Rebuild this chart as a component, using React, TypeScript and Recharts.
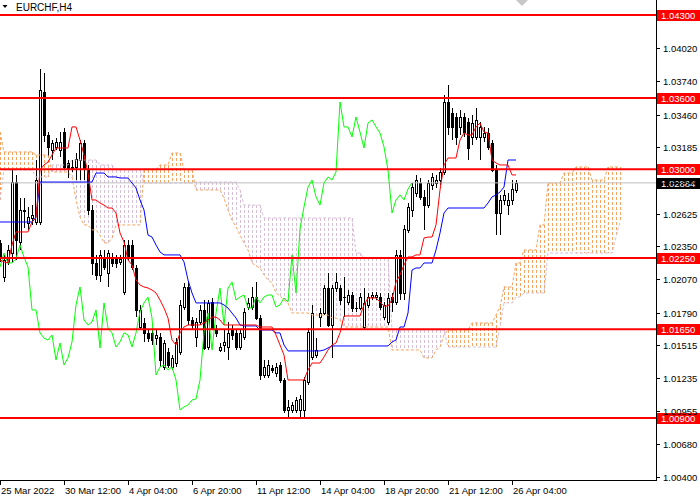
import React from 'react';
import { ComposedChart, Bar, Line, XAxis, YAxis, ReferenceLine } from 'recharts';

const FONT = '"Liberation Sans", Arial, sans-serif';

const opens = [
  1.02377, 1.02090, 1.02217, 1.02292, 1.02891, 1.02385, 1.02647, 1.02546, 1.02588, 1.02554,
  1.02554, 1.03651, 1.03288, 1.03162, 1.03187, 1.03162, 1.03313, 1.03052, 1.03010, 1.03018,
  1.03077, 1.03221, 1.02993, 1.02655, 1.02208, 1.02107, 1.02259, 1.02124, 1.02259, 1.02250,
  1.02217, 1.01963, 1.02360, 1.02360, 1.02166, 1.01668, 1.01702, 1.01618, 1.01618, 1.01575,
  1.01584, 1.01331, 1.01457, 1.01331, 1.01364, 1.01457, 1.01837, 1.02006, 1.01727, 1.01584,
  1.01710, 1.01812, 1.01499, 1.01879, 1.01643, 1.01474, 1.01516, 1.01499, 1.01643, 1.01618,
  1.01499, 1.01584, 1.01837, 1.01837, 1.01921, 1.01744, 1.01263, 1.01263, 1.01322, 1.01280,
  1.01348, 1.01221, 1.00968, 1.00968, 1.00968, 1.00968, 1.00968, 1.01204, 1.01415, 1.01432,
  1.01752, 1.01786, 1.01997, 1.01685, 1.01997, 1.01997, 1.01921, 1.01879, 1.01938, 1.01828,
  1.01828, 1.01668, 1.01854, 1.01921, 1.01921, 1.01921, 1.01752, 1.01710, 1.01921, 1.01879,
  1.02276, 1.01955, 1.02487, 1.02655, 1.02799, 1.02883, 1.02765, 1.02697, 1.02866, 1.02883,
  1.02908, 1.02976, 1.03566, 1.03474, 1.03440, 1.03356, 1.03440, 1.03398, 1.03271, 1.03271,
  1.03271, 1.03271, 1.03305, 1.03221, 1.02993, 1.02630, 1.02740, 1.02697, 1.02740, 1.02824,
];

const highs = [
  1.02402, 1.02276, 1.02360, 1.02993, 1.02951, 1.02756, 1.02756, 1.02681, 1.02697, 1.03077,
  1.03845, 1.03811, 1.03313, 1.03246, 1.03263, 1.03313, 1.03347, 1.03077, 1.03077, 1.03136,
  1.03246, 1.03246, 1.03035, 1.02697, 1.02276, 1.02318, 1.02318, 1.02318, 1.02292, 1.02276,
  1.02276, 1.02402, 1.02402, 1.02402, 1.02191, 1.01854, 1.01744, 1.01643, 1.01660, 1.01643,
  1.01618, 1.01558, 1.01491, 1.01432, 1.01575, 1.01896, 1.02039, 1.02048, 1.01752, 1.01744,
  1.01854, 1.01896, 1.01896, 1.01913, 1.01685, 1.01533, 1.01643, 1.01710, 1.01685, 1.01643,
  1.01643, 1.01828, 1.01913, 1.02006, 1.02048, 1.01769, 1.01390, 1.01390, 1.01348, 1.01364,
  1.01373, 1.01238, 1.01052, 1.01035, 1.01078, 1.01094, 1.01246, 1.01660, 1.01854, 1.01575,
  1.01828, 1.02022, 1.02124, 1.02022, 1.02124, 1.02022, 1.02090, 1.01980, 1.01963, 1.01879,
  1.01955, 1.01997, 1.01955, 1.01963, 1.01963, 1.01955, 1.01879, 1.01955, 1.01955, 1.02318,
  1.02318, 1.02529, 1.02714, 1.02883, 1.02951, 1.02925, 1.02824, 1.02908, 1.02967, 1.02951,
  1.03010, 1.03626, 1.03710, 1.03516, 1.03474, 1.03499, 1.03474, 1.03431, 1.03457, 1.03516,
  1.03398, 1.03356, 1.03347, 1.03246, 1.03035, 1.02782, 1.02824, 1.02799, 1.02908, 1.02908,
];

const lows = [
  1.02217, 1.02048, 1.02191, 1.02217, 1.02233, 1.02318, 1.02503, 1.02487, 1.02529, 1.02529,
  1.02529, 1.03229, 1.03102, 1.03077, 1.03162, 1.03102, 1.02993, 1.02925, 1.02976, 1.02908,
  1.02908, 1.02908, 1.02613, 1.02107, 1.02065, 1.02048, 1.02149, 1.02006, 1.02174, 1.02166,
  1.02191, 1.01938, 1.02233, 1.02149, 1.01752, 1.01643, 1.01542, 1.01542, 1.01516, 1.01516,
  1.01331, 1.01305, 1.01322, 1.01305, 1.01331, 1.01432, 1.01812, 1.01685, 1.01643, 1.01499,
  1.01685, 1.01474, 1.01474, 1.01643, 1.01584, 1.01457, 1.01457, 1.01390, 1.01558, 1.01474,
  1.01474, 1.01558, 1.01812, 1.01812, 1.01727, 1.01221, 1.01238, 1.01238, 1.01280, 1.01246,
  1.01196, 1.00943, 1.00900, 1.00943, 1.00943, 1.00900, 1.00900, 1.01179, 1.01390, 1.01407,
  1.01668, 1.01769, 1.01668, 1.01407, 1.01963, 1.01854, 1.01752, 1.01854, 1.01795, 1.01795,
  1.01812, 1.01643, 1.01828, 1.01896, 1.01896, 1.01812, 1.01727, 1.01685, 1.01795, 1.01854,
  1.01896, 1.01896, 1.02461, 1.02596, 1.02765, 1.02740, 1.02487, 1.02672, 1.02824, 1.02841,
  1.02866, 1.02951, 1.03288, 1.03246, 1.03204, 1.03288, 1.03271, 1.03077, 1.03204, 1.03246,
  1.03077, 1.03229, 1.03162, 1.02976, 1.02444, 1.02444, 1.02697, 1.02613, 1.02697, 1.02799,
];

const closes = [
  1.02250, 1.02233, 1.02318, 1.02891, 1.02402, 1.02655, 1.02655, 1.02596, 1.02613, 1.02908,
  1.03668, 1.03288, 1.03187, 1.03221, 1.03229, 1.03229, 1.03018, 1.03010, 1.03018, 1.03086,
  1.03221, 1.03010, 1.02655, 1.02208, 1.02107, 1.02276, 1.02174, 1.02292, 1.02208, 1.02208,
  1.02242, 1.02360, 1.02259, 1.02174, 1.01812, 1.01812, 1.01618, 1.01575, 1.01558, 1.01601,
  1.01390, 1.01533, 1.01348, 1.01407, 1.01542, 1.01854, 1.02006, 1.01727, 1.01685, 1.01710,
  1.01812, 1.01491, 1.01871, 1.01660, 1.01618, 1.01499, 1.01542, 1.01618, 1.01601, 1.01499,
  1.01618, 1.01795, 1.01871, 1.01921, 1.01744, 1.01263, 1.01331, 1.01348, 1.01305, 1.01331,
  1.01221, 1.00968, 1.00993, 1.01010, 1.01052, 1.01061, 1.01221, 1.01626, 1.01786, 1.01474,
  1.01786, 1.01997, 1.01685, 1.01997, 1.02048, 1.01896, 1.01921, 1.01938, 1.01828, 1.01828,
  1.01921, 1.01871, 1.01921, 1.01938, 1.01938, 1.01837, 1.01854, 1.01913, 1.01879, 1.02276,
  1.01955, 1.02495, 1.02681, 1.02849, 1.02908, 1.02765, 1.02697, 1.02883, 1.02934, 1.02908,
  1.02976, 1.03566, 1.03356, 1.03356, 1.03271, 1.03440, 1.03313, 1.03178, 1.03389, 1.03415,
  1.03356, 1.03305, 1.03187, 1.02993, 1.02630, 1.02740, 1.02782, 1.02740, 1.02832, 1.02884,
];

const tenkan = [
  1.02233, 1.02217, 1.02208, 1.02360, 1.02470, 1.02470, 1.02470, 1.02470, 1.02554, 1.02588,
  1.02993, 1.03035, 1.03060, 1.03119, 1.03178, 1.03178, 1.03178, 1.03178, 1.03356, 1.03356,
  1.03246, 1.03119, 1.02967, 1.02740, 1.02740, 1.02714, 1.02697, 1.02672, 1.02672, 1.02630,
  1.02461, 1.02385, 1.02233, 1.02191, 1.02065, 1.02022, 1.02006, 1.01997, 1.01980, 1.01955,
  1.01896, 1.01828, 1.01744, 1.01558, 1.01516, 1.01618, 1.01668, 1.01685, 1.01685, 1.01685,
  1.01685, 1.01702, 1.01727, 1.01752, 1.01752, 1.01727, 1.01685, 1.01685, 1.01685, 1.01685,
  1.01685, 1.01685, 1.01685, 1.01685, 1.01685, 1.01668, 1.01668, 1.01668, 1.01668, 1.01601,
  1.01516, 1.01432, 1.01221, 1.01221, 1.01221, 1.01221, 1.01221, 1.01305, 1.01364, 1.01364,
  1.01364, 1.01415, 1.01474, 1.01516, 1.01533, 1.01618, 1.01761, 1.01761, 1.01761, 1.01761,
  1.01761, 1.01854, 1.01913, 1.01913, 1.01913, 1.01879, 1.01845, 1.01845, 1.01896, 1.02048,
  1.02107, 1.02191, 1.02259, 1.02259, 1.02276, 1.02276, 1.02419, 1.02427, 1.02427, 1.02529,
  1.02824, 1.03035, 1.03094, 1.03094, 1.03094, 1.03246, 1.03305, 1.03288, 1.03288, 1.03356,
  1.03389, 1.03313, 1.03305, 1.03077, 1.03052, 1.03035, 1.03035, 1.03035, 1.02951, 1.02951,
];

const kijun = [
  1.02554, 1.02554, 1.02554, 1.02554, 1.02554, 1.02554, 1.02554, 1.02554, 1.02554, 1.02596,
  1.02891, 1.02891, 1.02891, 1.02891, 1.02891, 1.02891, 1.02891, 1.02891, 1.02891, 1.02891,
  1.02891, 1.02891, 1.02891, 1.02891, 1.02967, 1.02967, 1.02967, 1.02934, 1.02934, 1.02934,
  1.02925, 1.02925, 1.02925, 1.02883, 1.02841, 1.02740, 1.02655, 1.02444, 1.02427, 1.02360,
  1.02301, 1.02276, 1.02276, 1.02276, 1.02276, 1.02276, 1.02217, 1.02065, 1.01955, 1.01871,
  1.01871, 1.01871, 1.01871, 1.01871, 1.01871, 1.01871, 1.01854, 1.01828, 1.01786, 1.01744,
  1.01685, 1.01677, 1.01677, 1.01677, 1.01677, 1.01643, 1.01643, 1.01643, 1.01643, 1.01618,
  1.01618, 1.01516, 1.01466, 1.01466, 1.01466, 1.01466, 1.01466, 1.01466, 1.01466, 1.01466,
  1.01466, 1.01474, 1.01491, 1.01508, 1.01508, 1.01508, 1.01508, 1.01508, 1.01508, 1.01508,
  1.01508, 1.01508, 1.01508, 1.01508, 1.01508, 1.01508, 1.01508, 1.01508, 1.01542, 1.01558,
  1.01668, 1.01668, 1.01786, 1.02149, 1.02166, 1.02166, 1.02208, 1.02208, 1.02208, 1.02318,
  1.02461, 1.02630, 1.02672, 1.02672, 1.02672, 1.02672, 1.02672, 1.02672, 1.02672, 1.02672,
  1.02672, 1.02672, 1.02714, 1.02765, 1.02782, 1.02807, 1.02849, 1.03077, 1.03077, 1.03077,
];

const spanA = [
  1.03313, 1.03145, 1.03145, 1.03145, 1.03145, 1.03145, 1.03145, 1.03145, 1.03145, 1.03119,
  1.03119, 1.03119, 1.03119, 1.02976, 1.02976, 1.02976, 1.02976, 1.02976, 1.02934, 1.02740,
  1.02596, 1.02529, 1.02529, 1.02487, 1.02487, 1.02444, 1.02377, 1.02377, 1.02419, 1.02529,
  1.02529, 1.02529, 1.02529, 1.02529, 1.02529, 1.02529, 1.02993, 1.02993, 1.02993, 1.02993,
  1.03035, 1.03035, 1.03035, 1.03136, 1.03136, 1.03136, 1.02993, 1.02993, 1.02993, 1.02824,
  1.02824, 1.02824, 1.02824, 1.02824, 1.02824, 1.02824, 1.02756, 1.02655, 1.02571, 1.02512,
  1.02444, 1.02377, 1.02318, 1.02208, 1.02183, 1.02166, 1.02107, 1.02065, 1.02039, 1.01955,
  1.01930, 1.01896, 1.01871, 1.01786, 1.01786, 1.01786, 1.01786, 1.01786, 1.01769, 1.01769,
  1.01769, 1.01769, 1.01769, 1.01744, 1.01744, 1.01727, 1.01668, 1.01668, 1.01668, 1.01668,
  1.01668, 1.01668, 1.01668, 1.01668, 1.01668, 1.01668, 1.01668, 1.01668, 1.01474, 1.01474,
  1.01474, 1.01474, 1.01474, 1.01474, 1.01474, 1.01474, 1.01407, 1.01407, 1.01407, 1.01474,
  1.01499, 1.01601, 1.01643, 1.01643, 1.01643, 1.01643, 1.01643, 1.01643, 1.01702, 1.01702,
  1.01702, 1.01702, 1.01702, 1.01702, 1.01769, 1.01837, 1.02006, 1.02006, 1.02006, 1.02208,
  1.02208, 1.02318, 1.02318, 1.02318, 1.02318, 1.02529, 1.02529, 1.02883, 1.02883, 1.02883,
  1.02883, 1.02967, 1.02967, 1.02967, 1.03018, 1.03018, 1.03018, 1.03018, 1.02908, 1.02908,
  1.02908, 1.02908, 1.03018, 1.03018, 1.03018, 1.03018,
];

const spanB = [
  1.02740, 1.02993, 1.02993, 1.02993, 1.02993, 1.02993, 1.02993, 1.02993, 1.02993, 1.02934,
  1.02934, 1.02934, 1.02934, 1.03035, 1.03035, 1.03035, 1.03035, 1.03035, 1.03077, 1.03077,
  1.03077, 1.03077, 1.03077, 1.03077, 1.03077, 1.03035, 1.03035, 1.03035, 1.03035, 1.02993,
  1.02993, 1.02993, 1.02993, 1.02993, 1.02993, 1.02993, 1.02883, 1.02883, 1.02883, 1.02883,
  1.02883, 1.02883, 1.02883, 1.02883, 1.02883, 1.02883, 1.02883, 1.02883, 1.02883, 1.02891,
  1.02891, 1.02891, 1.02891, 1.02891, 1.02891, 1.02891, 1.02891, 1.02891, 1.02891, 1.02891,
  1.02824, 1.02697, 1.02697, 1.02697, 1.02697, 1.02697, 1.02588, 1.02588, 1.02588, 1.02588,
  1.02588, 1.02588, 1.02588, 1.02588, 1.02588, 1.02588, 1.02588, 1.02588, 1.02588, 1.02588,
  1.02588, 1.02588, 1.02588, 1.02588, 1.02588, 1.02588, 1.02588, 1.02588, 1.02588, 1.02292,
  1.02292, 1.02250, 1.02250, 1.02250, 1.02250, 1.02250, 1.02250, 1.02250, 1.01643, 1.01643,
  1.01643, 1.01643, 1.01643, 1.01643, 1.01643, 1.01643, 1.01643, 1.01643, 1.01643, 1.01643,
  1.01643, 1.01643, 1.01499, 1.01499, 1.01499, 1.01499, 1.01499, 1.01499, 1.01499, 1.01499,
  1.01499, 1.01499, 1.01499, 1.01499, 1.01499, 1.01668, 1.01871, 1.01871, 1.01871, 1.01921,
  1.01921, 1.01955, 1.01955, 1.01955, 1.01955, 1.01955, 1.01955, 1.02292, 1.02292, 1.02292,
  1.02292, 1.02292, 1.02292, 1.02292, 1.02292, 1.02292, 1.02292, 1.02292, 1.02292, 1.02292,
  1.02292, 1.02292, 1.02292, 1.02292, 1.02427, 1.02554,
];

const dateTicks = [0, 16, 32, 48, 64, 80, 96, 112, 128];
const dateLabels = [
  '25 Mar 2022', '30 Mar 12:00', '4 Apr 04:00', '6 Apr 20:00', '11 Apr 12:00',
  '14 Apr 04:00', '18 Apr 20:00', '21 Apr 12:00', '26 Apr 04:00',
];
const priceTicks = [
  1.0402, 1.0374, 1.0346, 1.03185, 1.0291, 1.02625, 1.0235, 1.0207, 1.0179,
  1.01515, 1.01235, 1.00955, 1.0068, 1.004,
];
const levels = [1.043, 1.036, 1.03, 1.0225, 1.0165, 1.009];
const lastPrice = 1.02884;
const CHIKOU_SHIFT = 26;
const SLOTS = 164;

const rows: any[] = [];
for (let i = 0; i <= SLOTS; i++) {
  const r: any = { idx: i };
  if (i < closes.length) {
    r.open = opens[i];
    r.close = closes[i];
    r.range = [lows[i], highs[i]];
    r.tenkan = tenkan[i];
    r.kijun = kijun[i];
  }
  if (i + CHIKOU_SHIFT < closes.length) r.chikou = closes[i + CHIKOU_SHIFT];
  if (i < spanA.length) {
    r.spanA = spanA[i];
    r.spanB = spanB[i];
    r.cloud = [Math.min(spanA[i], spanB[i]), Math.max(spanA[i], spanB[i])];
  }
  rows.push(r);
}

function CandleShape(props: any) {
  const { x, y, width, height, payload } = props;
  if (!payload || !payload.range) return <g />;
  const [low, high] = payload.range;
  const top = Math.min(y, y + height);
  const h = Math.abs(height);
  const span = high - low;
  const py = (p: number) => (span > 0 ? top + ((high - p) / span) * h : top);
  const c = Math.round(x + width / 2);
  const yo = py(payload.open);
  const yc = py(payload.close);
  const bTop = Math.round(Math.min(yo, yc));
  const bBot = Math.round(Math.max(yo, yc));
  const wTop = Math.round(top);
  const wBot = Math.round(top + h);
  const bull = payload.close > payload.open;
  const doji = bBot - bTop < 1;
  return (
    <g>
      <line x1={c + 0.5} x2={c + 0.5} y1={wTop} y2={wBot} stroke="#000" strokeWidth={1} />
      {doji ? (
        <line x1={c - 1} x2={c + 2} y1={bTop + 0.5} y2={bTop + 0.5} stroke="#000" strokeWidth={1} />
      ) : bull ? (
        <rect x={c - 0.5} y={bTop + 0.5} width={2} height={bBot - bTop} fill="#fff" stroke="#000" strokeWidth={1} />
      ) : (
        <rect x={c - 1} y={bTop} width={3} height={bBot - bTop + 1} fill="#000" />
      )}
    </g>
  );
}

function CloudShape(props: any) {
  const { x, y, width, height, payload } = props;
  if (!payload || !payload.cloud) return <g />;
  const top = Math.min(y, y + height);
  const h = Math.abs(height);
  const c = Math.round(x + width / 2) + 0.5;
  const color = payload.spanA >= payload.spanB ? '#F4A460' : '#D8BFD8';
  return <line x1={c} x2={c} y1={Math.round(top)} y2={Math.round(top + h)} stroke={color} strokeWidth={1} strokeDasharray="3 2" />;
}

function DateTick(props: any) {
  const { x, payload } = props;
  const k = dateTicks.indexOf(payload.value);
  const px = Math.round(x);
  return (
    <g>
      <line x1={px + 0.5} x2={px + 0.5} y1={480} y2={485} stroke="#000" />
      <text x={px + 1} y={494} fontSize={9.5} fontFamily={FONT} fill="#000" textAnchor="start">
        {dateLabels[k]}
      </text>
    </g>
  );
}

function PriceTick(props: any) {
  const { y, payload } = props;
  const py = Math.round(y) + 0.5;
  return (
    <g>
      <line x1={656} x2={660} y1={py} y2={py} stroke="#000" />
      <text x={663} y={py + 3.5} fontSize={9.5} fontFamily={FONT} fill="#000">
        {Number(payload.value).toFixed(5)}
      </text>
    </g>
  );
}

function PriceTag(props: any) {
  const { viewBox, text, bg } = props;
  if (!viewBox) return null;
  const ly = Math.round(viewBox.y);
  return (
    <g>
      <rect x={657} y={ly - 5} width={43} height={11} fill={bg} />
      <text x={661} y={ly + 4} fontSize={9.5} fontFamily={FONT} fill="#fff">
        {text}
      </text>
    </g>
  );
}

export default function App() {
  return (
    <div style={{ position: 'absolute', left: 0, top: 0, width: 700, height: 500, background: '#fff' }}>
      <ComposedChart width={700} height={500} data={rows} margin={{ top: 0, right: 0, bottom: 0, left: 0 }}>
        <XAxis
          dataKey="idx"
          type="number"
          domain={[0, SLOTS]}
          allowDataOverflow
          ticks={dateTicks}
          interval={0}
          height={20}
          axisLine={false}
          tickLine={false}
          tick={<DateTick />}
        />
        <XAxis xAxisId="cloud" dataKey="idx" type="number" domain={[0, SLOTS]} allowDataOverflow hide />
        <YAxis
          orientation="right"
          type="number"
          domain={[1.00377, 1.04427]}
          allowDataOverflow
          ticks={priceTicks}
          interval={0}
          width={44}
          axisLine={false}
          tickLine={false}
          tick={<PriceTick />}
        />
        <Bar xAxisId="cloud" dataKey="cloud" barSize={3} shape={<CloudShape />} isAnimationActive={false} />
        <Line dataKey="spanA" type="linear" stroke="#F4A460" strokeDasharray="3 2" dot={false} activeDot={false} isAnimationActive={false} />
        <Line dataKey="spanB" type="linear" stroke="#D8BFD8" strokeDasharray="3 2" dot={false} activeDot={false} isAnimationActive={false} />
        <ReferenceLine y={lastPrice} stroke="#C0C0C0" strokeWidth={1} label={<PriceTag text="1.02884" bg="#000" />} />
        <Bar dataKey="range" barSize={3} shape={<CandleShape />} isAnimationActive={false} />
        <Line dataKey="chikou" type="linear" stroke="#00FF00" strokeWidth={1} dot={false} activeDot={false} isAnimationActive={false} />
        <Line dataKey="kijun" type="linear" stroke="#0000FF" strokeWidth={1} dot={false} activeDot={false} isAnimationActive={false} />
        <Line dataKey="tenkan" type="linear" stroke="#FF0000" strokeWidth={1} dot={false} activeDot={false} isAnimationActive={false} />
        {levels.map((lv) => (
          <ReferenceLine
            key={lv}
            y={lv}
            stroke="#FF0000"
            strokeWidth={2}
            label={<PriceTag text={lv.toFixed(5)} bg="#FF0000" />}
          />
        ))}
      </ComposedChart>
      <svg width={700} height={500} style={{ position: 'absolute', left: 0, top: 0, pointerEvents: 'none' }}>
        <line x1={656.5} x2={656.5} y1={0} y2={481} stroke="#000" />
        <line x1={0} x2={657} y1={480.5} y2={480.5} stroke="#000" />
        <polygon points="2.5,5 7.5,5 5,8" fill="#000" />
        <text x={16} y={11} fontSize={10} fontFamily={FONT} fill="#000">EURCHF,H4</text>
        <polygon points="516,0 528,0 522,6" fill="#C8C8C8" />
      </svg>
    </div>
  );
}
